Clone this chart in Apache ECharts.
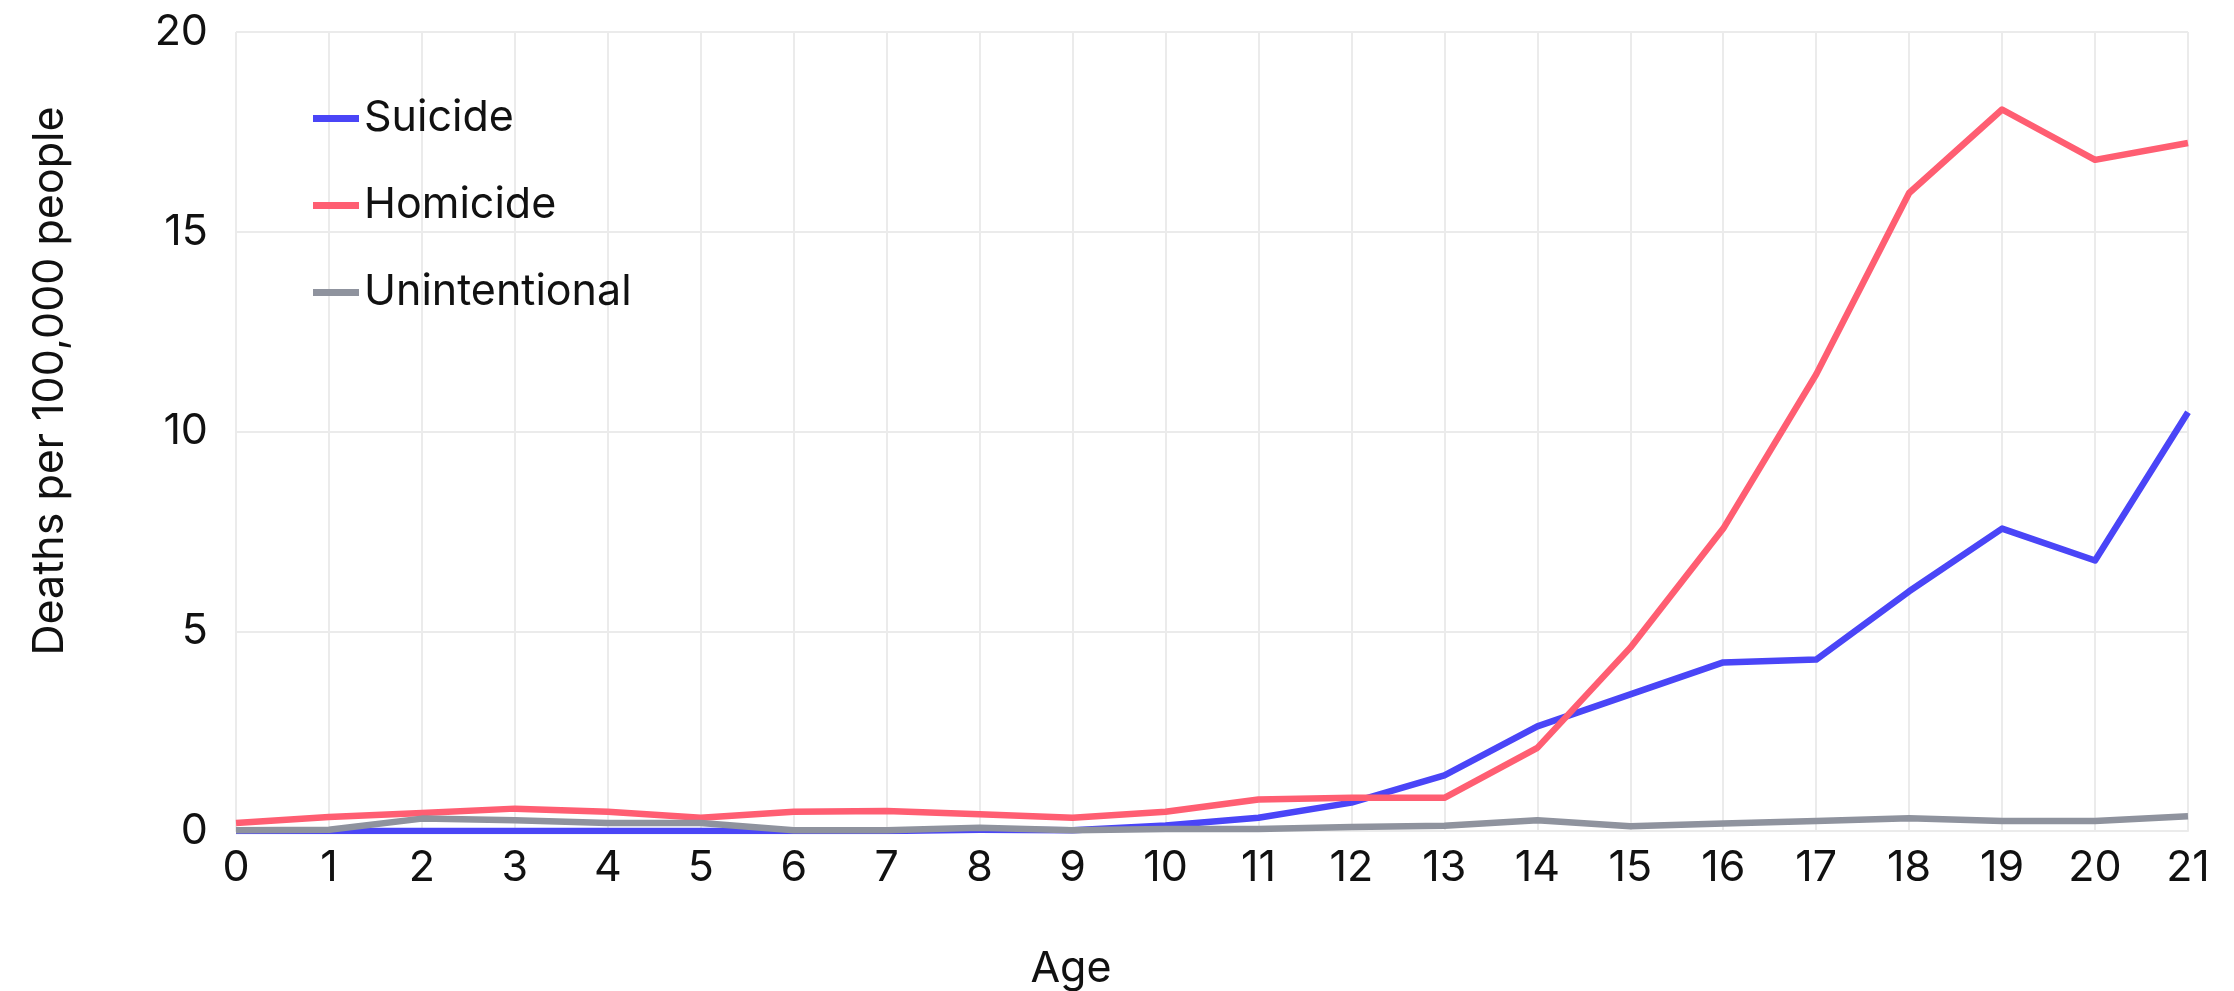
<!DOCTYPE html>
<html>
<head>
<meta charset="utf-8">
<script src="https://cdn.jsdelivr.net/npm/echarts@6/dist/echarts.min.js"></script>
<style>html,body{margin:0;padding:0;background:#fff;}#c{width:2234px;height:991px;}</style>
</head>
<body>
<div id="c"></div>
<script>
const ages = ['0','1','2','3','4','5','6','7','8','9','10','11','12','13','14','15','16','17','18','19','20','21'];
const suicide = [0, 0, 0, 0, 0, 0, 0, 0, 0.03, 0.02, 0.14, 0.33, 0.71, 1.39, 2.62, 3.42, 4.22, 4.29, 6.0, 7.57, 6.77, 10.48];
const homicide = [0.2, 0.35, 0.45, 0.56, 0.48, 0.33, 0.48, 0.5, 0.42, 0.33, 0.48, 0.79, 0.83, 0.83, 2.08, 4.59, 7.57, 11.43, 15.97, 18.06, 16.8, 17.22];
const unintentional = [0.02, 0.03, 0.31, 0.27, 0.2, 0.2, 0.02, 0.02, 0.08, 0.02, 0.05, 0.05, 0.1, 0.13, 0.27, 0.12, 0.19, 0.25, 0.32, 0.25, 0.25, 0.37];
const yTicks = [0, 5, 10, 15, 20];

const FONT = 'Inter';
const FS = 43;
const chart = echarts.init(document.getElementById('c'));
const mk = (name, data, color) => ({
  name, type: 'line', data, symbol: 'none', smooth: false,
  lineStyle: { color, width: 6.5, join: 'round' }, itemStyle: { color },
  emphasis: { disabled: true }
});
chart.setOption({
  animation: false,
  backgroundColor: '#ffffff',
  textStyle: { fontFamily: FONT },
  grid: { left: 236, right: 46, top: 32, bottom: 160 },
  legend: {
    orient: 'vertical', left: 308, top: 92, itemGap: 44,
    itemWidth: 46, itemHeight: 7, icon: 'rect',
    textStyle: { fontFamily: FONT, fontSize: FS, color: '#111' },
    data: ['Suicide', 'Homicide', 'Unintentional']
  },
  xAxis: {
    type: 'category', data: ages, boundaryGap: false,
    axisLine: { show: true, lineStyle: { color: '#ebebeb', width: 2 } },
    axisTick: { show: false },
    axisLabel: { fontFamily: FONT, fontSize: FS, color: '#111', margin: 16, interval: 0 },
    splitLine: { show: true, lineStyle: { color: '#ebebeb', width: 2 } }
  },
  yAxis: {
    type: 'value', min: 0, max: 20, interval: 5,
    axisLine: { show: false }, axisTick: { show: false },
    axisLabel: { fontFamily: FONT, fontSize: FS, color: '#111', margin: 28,
      formatter: v => yTicks.includes(v) ? String(v) : '' },
    splitLine: { show: true, lineStyle: { color: '#ebebeb', width: 2 } }
  },
  graphic: [
    { type: 'text', x: 1071, y: 969,
      style: { text: 'Age', font: FS + 'px ' + FONT, fill: '#111', align: 'center', verticalAlign: 'middle' } },
    { type: 'text', x: 50, y: 381, rotation: Math.PI / 2,
      style: { text: 'Deaths per 100,000 people', font: FS + 'px ' + FONT, fill: '#111',
        align: 'center', verticalAlign: 'middle' } }
  ],
  series: [
    mk('Suicide', suicide, '#4a45f7'),
    mk('Homicide', homicide, '#ff5e72'),
    mk('Unintentional', unintentional, '#8f939e')
  ]
});
</script>
</body>
</html>
